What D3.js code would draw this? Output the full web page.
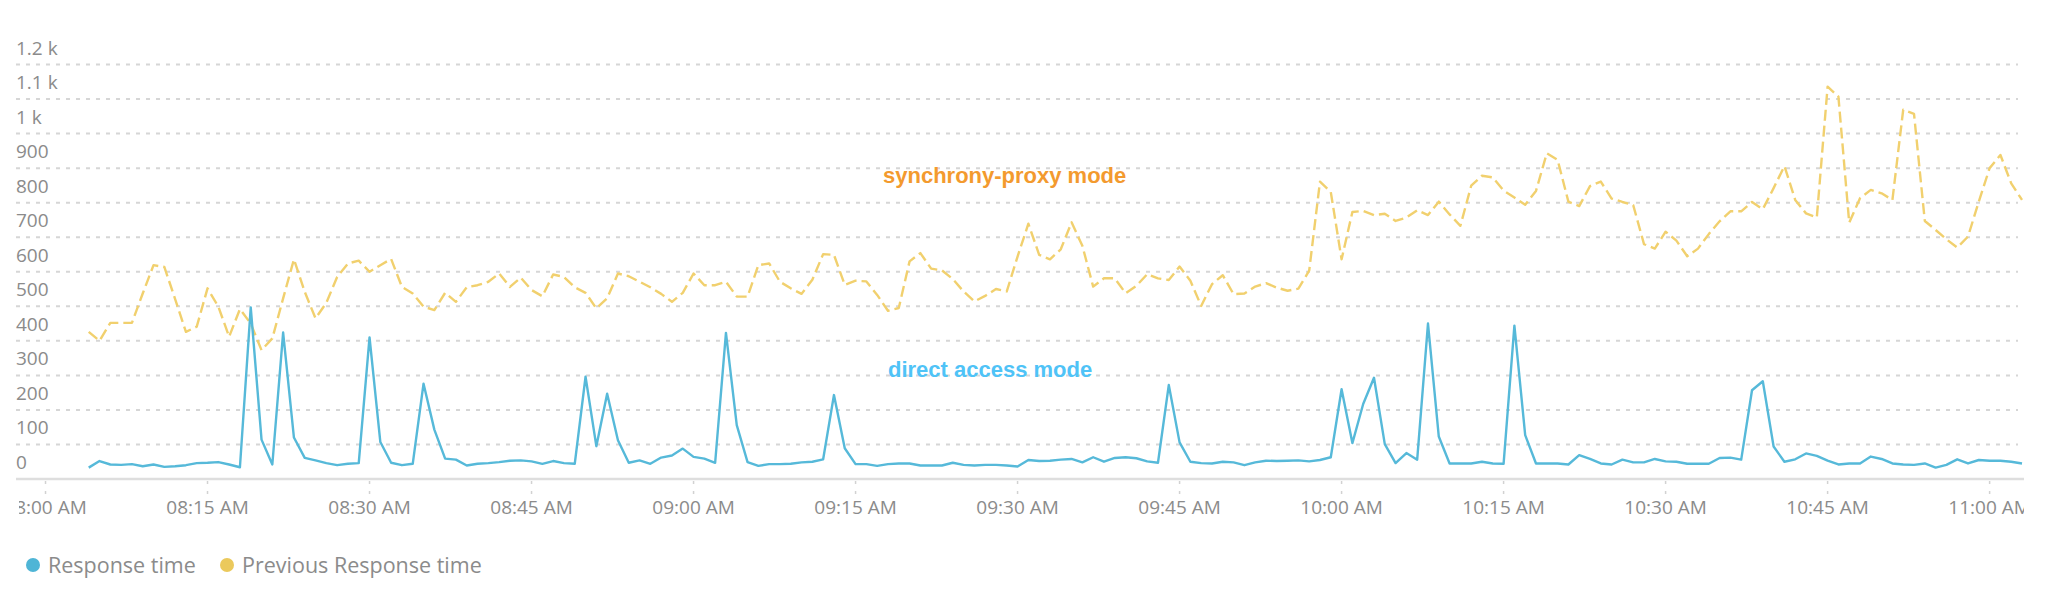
<!DOCTYPE html>
<html>
<head>
<meta charset="utf-8">
<script src="https://cdn.jsdelivr.net/npm/d3@7"></script>
<style>
  body { margin: 0; background: #fff; }
  .tick-label { font-family: "Open Sans", sans-serif; font-size: 19px; fill: #8b8b8b; }
  .legend-label { font-family: "Open Sans", sans-serif; font-size: 21.5px; fill: #8b8b8b; }
  .note { font-family: "Liberation Sans", Arial, sans-serif; font-size: 22px; font-weight: bold; }
</style>
</head>
<body>
<div id="chart"></div>
<script>
// one reading per minute, starting at 08:04
var startTime = "08:04";

var responseTime = [
  33, 52, 42, 41, 43, 37, 42, 35, 37, 40, 46, 47, 49, 42, 34, 497, 114, 42, 424, 120, 61, 54, 46,
  40, 44, 46, 410, 107, 47, 40, 44, 276, 143, 59, 56, 39, 44, 46, 49, 53, 54, 51, 44, 52, 46,
  44, 296, 95, 247, 112, 47, 54, 44, 62, 68, 88, 64, 59, 47, 423, 156, 49, 38, 43, 43, 44, 48,
  50, 57, 243, 89, 43, 43, 38, 43, 45, 45, 39, 39, 39, 47, 41, 39, 41, 41, 39, 36, 55, 52,
  53, 56, 58, 48, 63, 50, 61, 63, 60, 51, 47, 272, 106, 50, 46, 45, 50, 48, 40, 48, 53, 52, 53,
  54, 51, 55, 63, 260, 104, 217, 293, 101, 46, 75, 56, 450, 123, 45, 45, 45, 50, 45, 44, 444, 127,
  45, 45, 45, 42, 69, 58, 45, 42, 56, 48, 48, 58, 51, 50, 44, 44, 44, 61, 62, 56, 257, 283,
  94, 50, 57, 74, 67, 53, 42, 45, 45, 65, 58, 45, 42, 41, 45, 33, 41, 57, 45, 55, 53, 53, 50, 45
];

var previousResponseTime = [
  426, 400, 452, 452, 452, 537, 619, 614, 521, 426, 441, 552, 499, 412, 492, 450, 373, 407, 523, 636, 542, 465, 510,
  585, 624, 632, 600, 619, 637, 556, 537, 499, 489, 539, 513, 555, 561, 571, 595, 556, 583, 547, 529, 592, 585,
  555, 539, 494, 523, 595, 587, 571, 555, 536, 513, 539, 595, 561, 561, 571, 528, 528, 619, 624, 571, 552, 536,
  577, 651, 649, 562, 574, 572, 533, 487, 495, 630, 654, 609, 604, 579, 543, 514, 530, 550, 543, 644, 739, 649,
  636, 665, 743, 675, 557, 581, 581, 538, 559, 593, 581, 576, 615, 574, 501, 564, 590, 535, 537, 557, 567, 554, 545,
  551, 603, 861, 831, 636, 773, 776, 764, 768, 747, 757, 778, 764, 803, 766, 733, 849, 878, 873, 835, 815, 794,
  834, 943, 924, 803, 790, 848, 861, 812, 802, 793, 680, 667, 716, 690, 645, 667, 709, 746, 775, 775, 802, 781,
  842, 906, 808, 769, 757, 1136, 1107, 742, 813, 837, 827, 808, 1069, 1057, 747, 721, 694, 670, 702, 803, 900, 938, 856, 808
];

var yTicks = [0, 100, 200, 300, 400, 500, 600, 700, 800, 900, 1000, 1100, 1200];
var seriesNames = ["Response time", "Previous Response time"];
var seriesColors = ["#56b9d9", "#f1d06e"];
var legendColors = ["#4fb5d6", "#ebc95c"];

var svgWidth = 2046;
var svgHeight = 592;

var plot = { left: 16, right: 2024, top: 64.5, bottom: 479 };

var svg = d3.select("#chart")
  .append("svg")
  .attr("width", svgWidth)
  .attr("height", svgHeight);

var parseTime = d3.timeParse("%Y-%m-%d %H:%M");
var t0 = parseTime("2018-01-01 " + startTime);
var times = responseTime.map((d, i) => d3.timeMinute.offset(t0, i));

// 08:00 sits ~30px in from the left edge of the plot, 15 min = 162px
var eight = parseTime("2018-01-01 08:00").getTime();
var xScale = d3.scaleTime()
  .domain([new Date(eight - 164000), new Date(eight + 10991000)])
  .range([plot.left, plot.right]);

var yScale = d3.scaleLinear()
  .domain([0, 1200])
  .range([plot.bottom, plot.top]);

var defs = svg.append("defs");
defs.append("clipPath")
  .attr("id", "plot-clip")
  .append("rect")
  .attr("x", plot.left)
  .attr("y", 0)
  .attr("width", plot.right - plot.left)
  .attr("height", svgHeight);

defs.append("clipPath")
  .attr("id", "label-clip")
  .append("rect")
  .attr("x", plot.left + 3)
  .attr("y", 0)
  .attr("width", plot.right - plot.left - 3)
  .attr("height", svgHeight);

// horizontal grid lines (dotted), 0 is the solid axis
svg.append("g")
  .selectAll("line")
  .data(yTicks.filter(d => d > 0))
  .enter()
  .append("line")
  .attr("x1", plot.left)
  .attr("x2", plot.right - 6)
  .attr("y1", d => yScale(d))
  .attr("y2", d => yScale(d))
  .attr("stroke", "#d6d6d6")
  .attr("stroke-width", 2)
  .attr("stroke-dasharray", "4,6");

svg.append("line")
  .attr("x1", plot.left)
  .attr("x2", plot.right)
  .attr("y1", plot.bottom)
  .attr("y2", plot.bottom)
  .attr("stroke", "#dedede")
  .attr("stroke-width", 2.5);

// y labels sit just above their grid line
var yFormat = d => d >= 1000 ? (d / 1000) + " k" : String(d);
svg.append("g")
  .selectAll("text")
  .data(yTicks)
  .enter()
  .append("text")
  .attr("class", "tick-label")
  .attr("x", plot.left)
  .attr("y", d => yScale(d) - 10)
  .text(yFormat);

// x axis ticks + labels
var xTicks = xScale.ticks(d3.timeMinute.every(15));

svg.append("g")
  .attr("clip-path", "url(#plot-clip)")
  .selectAll("line")
  .data(xTicks)
  .enter()
  .append("line")
  .attr("x1", d => xScale(d))
  .attr("x2", d => xScale(d))
  .attr("y1", plot.bottom + 2)
  .attr("y2", plot.bottom + 15)
  .attr("stroke", "#d2d2d2")
  .attr("stroke-width", 1.5)
  .attr("stroke-dasharray", "3,7");

svg.append("g")
  .attr("clip-path", "url(#label-clip)")
  .selectAll("text")
  .data(xTicks)
  .enter()
  .append("text")
  .attr("class", "tick-label")
  .attr("x", d => xScale(d))
  .attr("y", 514)
  .attr("text-anchor", "middle")
  .text(d3.timeFormat("%I:%M %p"));

// lines
var lineGen = d3.line()
  .x((d, i) => xScale(times[i]))
  .y(d => yScale(d));

var linesGroup = svg.append("g").attr("clip-path", "url(#plot-clip)");

linesGroup.append("path")
  .datum(previousResponseTime)
  .attr("fill", "none")
  .attr("stroke", seriesColors[1])
  .attr("stroke-width", 2.4)
  .attr("stroke-dasharray", "11,5")
  .attr("stroke-linejoin", "round")
  .attr("d", lineGen);

linesGroup.append("path")
  .datum(responseTime)
  .attr("fill", "none")
  .attr("stroke", seriesColors[0])
  .attr("stroke-width", 2.4)
  .attr("stroke-linejoin", "round")
  .attr("d", lineGen);

// annotations
svg.append("text")
  .attr("class", "note")
  .attr("x", 883)
  .attr("y", 183)
  .attr("fill", "#f39a2e")
  .text("synchrony-proxy mode");

svg.append("text")
  .attr("class", "note")
  .attr("x", 888)
  .attr("y", 377)
  .attr("fill", "#4fc3f7")
  .text("direct access mode");

// legend
var legendX = [33, 227];
var legend = svg.append("g");
seriesNames.forEach(function(name, i) {
  legend.append("circle")
    .attr("cx", legendX[i])
    .attr("cy", 565)
    .attr("r", 7)
    .attr("fill", legendColors[i]);
  legend.append("text")
    .attr("class", "legend-label")
    .attr("x", legendX[i] + 15)
    .attr("y", 573)
    .text(name);
});
</script>
</body>
</html>
